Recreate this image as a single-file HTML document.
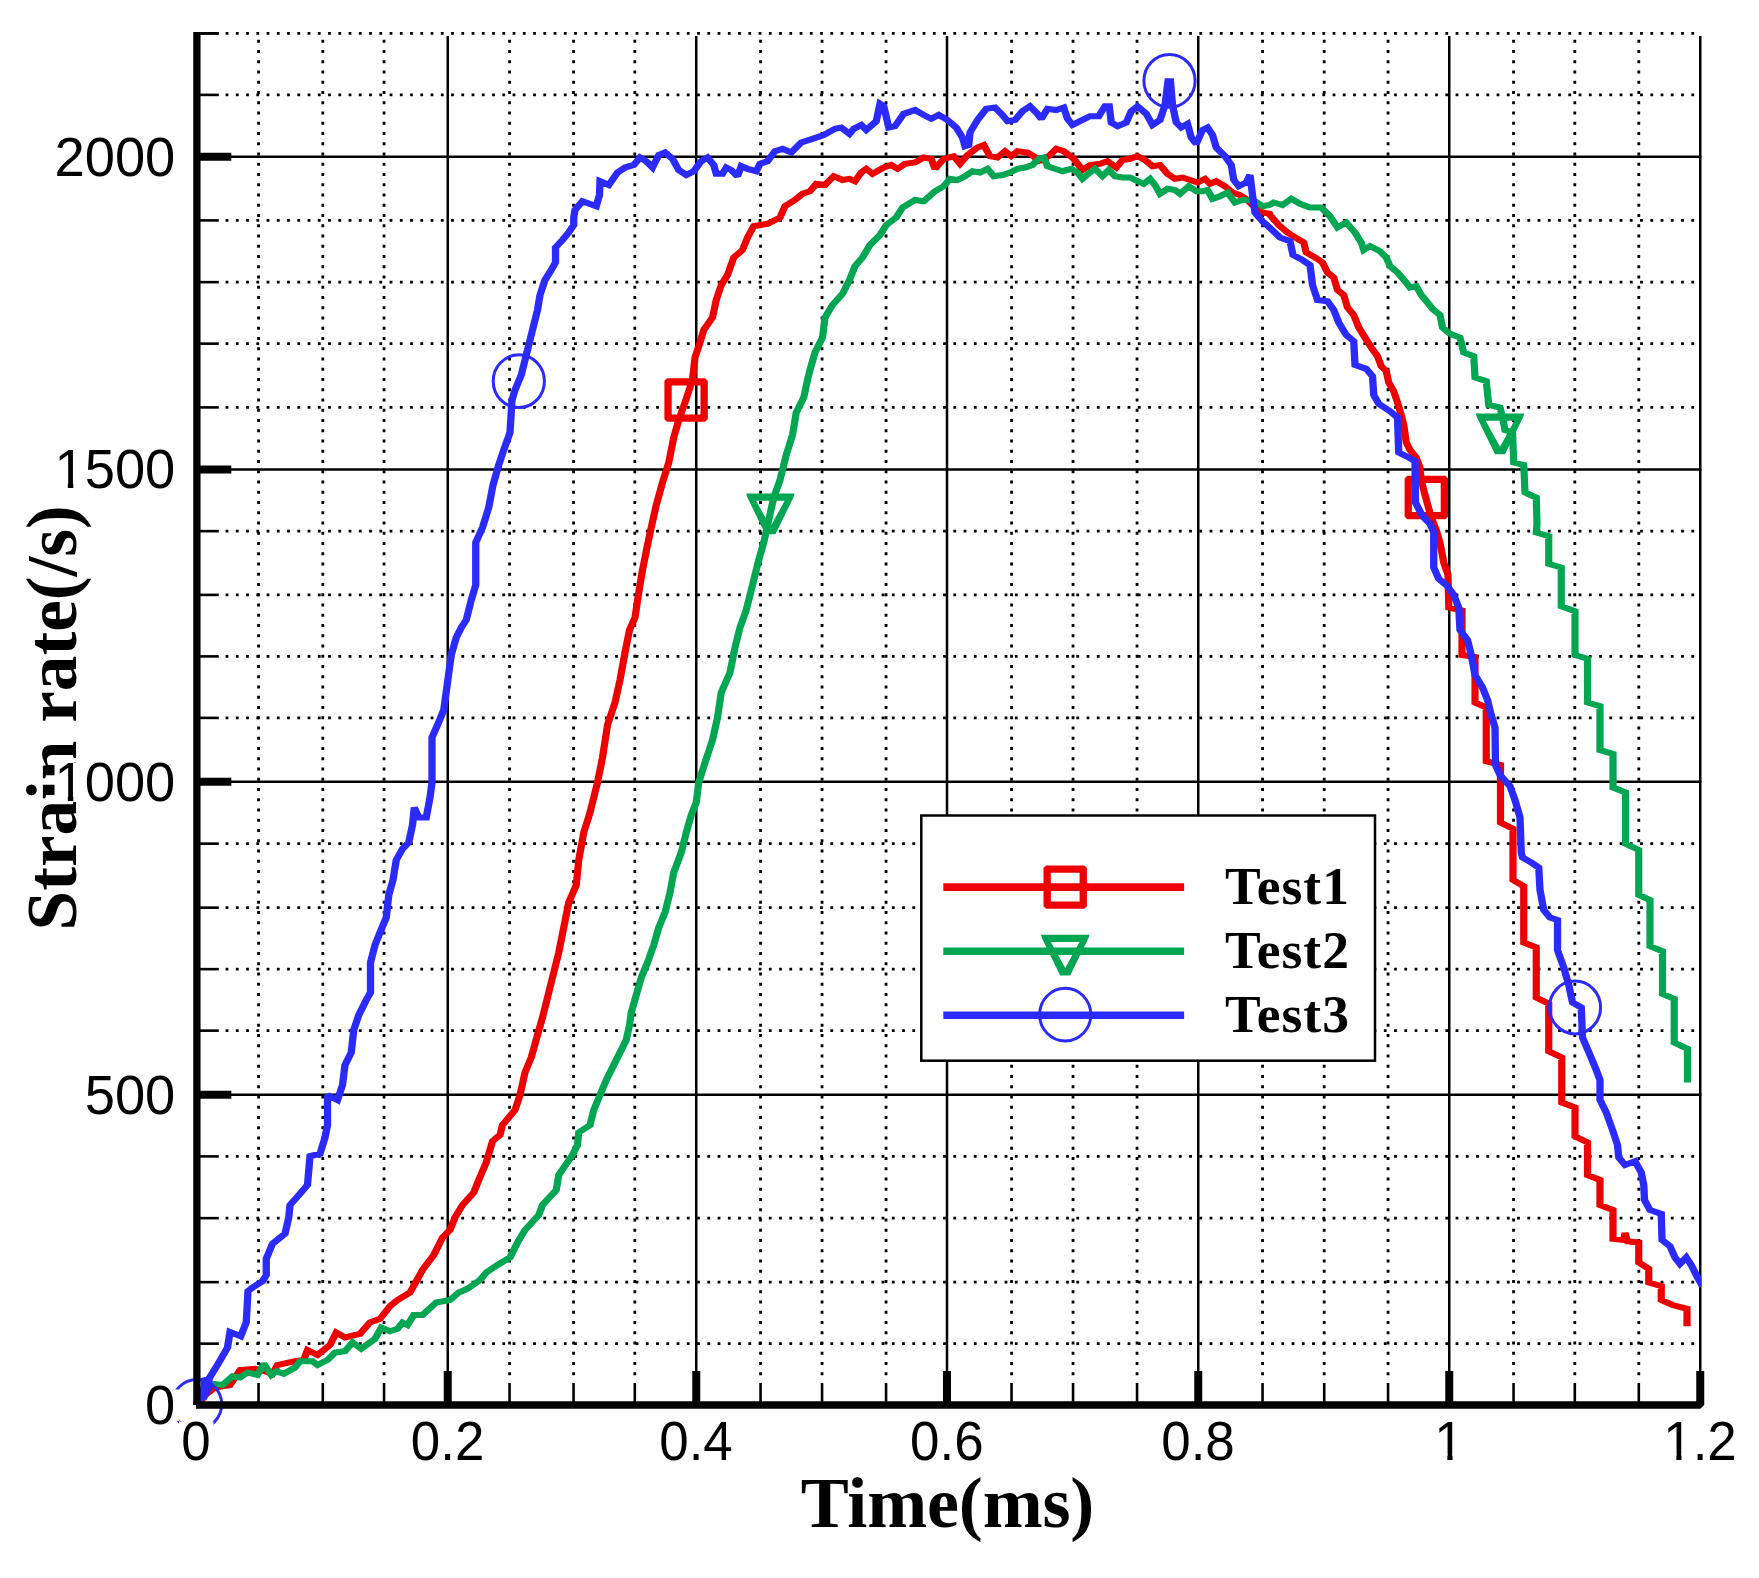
<!DOCTYPE html>
<html><head><meta charset="utf-8"><title>Strain rate</title>
<style>html,body{margin:0;padding:0;background:#fff}svg{display:block}</style></head>
<body>
<svg width="1759" height="1578" viewBox="0 0 1759 1578">
<rect width="1759" height="1578" fill="#fff"/>
<g stroke="#000" stroke-width="2.8" stroke-dasharray="2.8 7.45" fill="none">
<line x1="258.55" y1="39.85" x2="258.55" y2="1376"/>
<line x1="322.80" y1="39.85" x2="322.80" y2="1376"/>
<line x1="384.05" y1="39.85" x2="384.05" y2="1376"/>
<line x1="509.55" y1="39.85" x2="509.55" y2="1376"/>
<line x1="573.55" y1="39.85" x2="573.55" y2="1376"/>
<line x1="634.80" y1="39.85" x2="634.80" y2="1376"/>
<line x1="760.55" y1="39.85" x2="760.55" y2="1376"/>
<line x1="822.05" y1="39.85" x2="822.05" y2="1376"/>
<line x1="886.05" y1="39.85" x2="886.05" y2="1376"/>
<line x1="1011.55" y1="39.85" x2="1011.55" y2="1376"/>
<line x1="1073.05" y1="39.85" x2="1073.05" y2="1376"/>
<line x1="1137.05" y1="39.85" x2="1137.05" y2="1376"/>
<line x1="1262.55" y1="39.85" x2="1262.55" y2="1376"/>
<line x1="1324.20" y1="39.85" x2="1324.20" y2="1376"/>
<line x1="1388.05" y1="39.85" x2="1388.05" y2="1376"/>
<line x1="1513.55" y1="39.85" x2="1513.55" y2="1376"/>
<line x1="1574.80" y1="39.85" x2="1574.80" y2="1376"/>
<line x1="1638.80" y1="39.85" x2="1638.80" y2="1376"/>
<line x1="225.60" y1="1343.65" x2="1696" y2="1343.65"/>
<line x1="225.60" y1="1282.15" x2="1696" y2="1282.15"/>
<line x1="225.60" y1="1218.15" x2="1696" y2="1218.15"/>
<line x1="225.60" y1="1156.40" x2="1696" y2="1156.40"/>
<line x1="225.60" y1="1030.65" x2="1696" y2="1030.65"/>
<line x1="225.60" y1="969.15" x2="1696" y2="969.15"/>
<line x1="225.60" y1="907.65" x2="1696" y2="907.65"/>
<line x1="225.60" y1="843.65" x2="1696" y2="843.65"/>
<line x1="225.60" y1="717.90" x2="1696" y2="717.90"/>
<line x1="225.60" y1="656.40" x2="1696" y2="656.40"/>
<line x1="225.60" y1="594.90" x2="1696" y2="594.90"/>
<line x1="225.60" y1="531.15" x2="1696" y2="531.15"/>
<line x1="225.60" y1="407.40" x2="1696" y2="407.40"/>
<line x1="225.60" y1="343.65" x2="1696" y2="343.65"/>
<line x1="225.60" y1="282.15" x2="1696" y2="282.15"/>
<line x1="225.60" y1="220.40" x2="1696" y2="220.40"/>
<line x1="225.60" y1="94.90" x2="1696" y2="94.90"/>
<line x1="225.60" y1="33.40" x2="1696" y2="33.40"/>
</g>
<g stroke="#000" stroke-width="2.5" fill="none">
<line x1="447.75" y1="35.90" x2="447.75" y2="1405.00"/>
<line x1="696.25" y1="35.90" x2="696.25" y2="1405.00"/>
<line x1="947.00" y1="35.90" x2="947.00" y2="1405.00"/>
<line x1="1198.25" y1="35.90" x2="1198.25" y2="1405.00"/>
<line x1="1449.25" y1="35.90" x2="1449.25" y2="1405.00"/>
<line x1="1700.25" y1="35.90" x2="1700.25" y2="1405.00"/>
<line x1="196.90" y1="1094.70" x2="1701.45" y2="1094.70"/>
<line x1="196.90" y1="781.65" x2="1701.45" y2="781.65"/>
<line x1="196.90" y1="469.40" x2="1701.45" y2="469.40"/>
<line x1="196.90" y1="156.65" x2="1701.45" y2="156.65"/>
</g>
<g stroke="#000" fill="none">
<line x1="258.55" y1="1383" x2="258.55" y2="1405.00" stroke-width="2.6"/>
<line x1="322.80" y1="1383" x2="322.80" y2="1405.00" stroke-width="2.6"/>
<line x1="384.05" y1="1383" x2="384.05" y2="1405.00" stroke-width="2.6"/>
<line x1="447.75" y1="1371" x2="447.75" y2="1405.00" stroke-width="8"/>
<line x1="509.55" y1="1383" x2="509.55" y2="1405.00" stroke-width="2.6"/>
<line x1="573.55" y1="1383" x2="573.55" y2="1405.00" stroke-width="2.6"/>
<line x1="634.80" y1="1383" x2="634.80" y2="1405.00" stroke-width="2.6"/>
<line x1="696.25" y1="1371" x2="696.25" y2="1405.00" stroke-width="8"/>
<line x1="760.55" y1="1383" x2="760.55" y2="1405.00" stroke-width="2.6"/>
<line x1="822.05" y1="1383" x2="822.05" y2="1405.00" stroke-width="2.6"/>
<line x1="886.05" y1="1383" x2="886.05" y2="1405.00" stroke-width="2.6"/>
<line x1="947.00" y1="1371" x2="947.00" y2="1405.00" stroke-width="8"/>
<line x1="1011.55" y1="1383" x2="1011.55" y2="1405.00" stroke-width="2.6"/>
<line x1="1073.05" y1="1383" x2="1073.05" y2="1405.00" stroke-width="2.6"/>
<line x1="1137.05" y1="1383" x2="1137.05" y2="1405.00" stroke-width="2.6"/>
<line x1="1198.25" y1="1371" x2="1198.25" y2="1405.00" stroke-width="8"/>
<line x1="1262.55" y1="1383" x2="1262.55" y2="1405.00" stroke-width="2.6"/>
<line x1="1324.20" y1="1383" x2="1324.20" y2="1405.00" stroke-width="2.6"/>
<line x1="1388.05" y1="1383" x2="1388.05" y2="1405.00" stroke-width="2.6"/>
<line x1="1449.25" y1="1371" x2="1449.25" y2="1405.00" stroke-width="8"/>
<line x1="1513.55" y1="1383" x2="1513.55" y2="1405.00" stroke-width="2.6"/>
<line x1="1574.80" y1="1383" x2="1574.80" y2="1405.00" stroke-width="2.6"/>
<line x1="1638.80" y1="1383" x2="1638.80" y2="1405.00" stroke-width="2.6"/>
<line x1="1700.25" y1="1371" x2="1700.25" y2="1405.00" stroke-width="8"/>
<line x1="196.90" y1="1343.65" x2="218.8" y2="1343.65" stroke-width="2.6"/>
<line x1="196.90" y1="1282.15" x2="218.8" y2="1282.15" stroke-width="2.6"/>
<line x1="196.90" y1="1218.15" x2="218.8" y2="1218.15" stroke-width="2.6"/>
<line x1="196.90" y1="1156.40" x2="218.8" y2="1156.40" stroke-width="2.6"/>
<line x1="196.90" y1="1094.70" x2="231.3" y2="1094.70" stroke-width="8"/>
<line x1="196.90" y1="1030.65" x2="218.8" y2="1030.65" stroke-width="2.6"/>
<line x1="196.90" y1="969.15" x2="218.8" y2="969.15" stroke-width="2.6"/>
<line x1="196.90" y1="907.65" x2="218.8" y2="907.65" stroke-width="2.6"/>
<line x1="196.90" y1="843.65" x2="218.8" y2="843.65" stroke-width="2.6"/>
<line x1="196.90" y1="781.65" x2="231.3" y2="781.65" stroke-width="8"/>
<line x1="196.90" y1="717.90" x2="218.8" y2="717.90" stroke-width="2.6"/>
<line x1="196.90" y1="656.40" x2="218.8" y2="656.40" stroke-width="2.6"/>
<line x1="196.90" y1="594.90" x2="218.8" y2="594.90" stroke-width="2.6"/>
<line x1="196.90" y1="531.15" x2="218.8" y2="531.15" stroke-width="2.6"/>
<line x1="196.90" y1="469.40" x2="231.3" y2="469.40" stroke-width="8"/>
<line x1="196.90" y1="407.40" x2="218.8" y2="407.40" stroke-width="2.6"/>
<line x1="196.90" y1="343.65" x2="218.8" y2="343.65" stroke-width="2.6"/>
<line x1="196.90" y1="282.15" x2="218.8" y2="282.15" stroke-width="2.6"/>
<line x1="196.90" y1="220.40" x2="218.8" y2="220.40" stroke-width="2.6"/>
<line x1="196.90" y1="156.65" x2="231.3" y2="156.65" stroke-width="8"/>
<line x1="196.90" y1="94.90" x2="218.8" y2="94.90" stroke-width="2.6"/>
<line x1="196.90" y1="33.40" x2="218.8" y2="33.40" stroke-width="2.6"/>
</g>
<clipPath id="c"><rect x="196.9" y="33.4" width="1504.5" height="1371.6"/></clipPath>
<g clip-path="url(#c)"><polyline transform="scale(1.2,1)" points="166.67,1402.5 170.83,1395.0 179.17,1387.5 191.67,1385.0 200.00,1370.0 212.50,1368.8 220.83,1371.2 227.08,1373.8 231.25,1365.0 245.83,1361.2 253.12,1360.0 256.25,1350.0 264.58,1355.0 275.00,1345.0 280.21,1332.5 287.50,1337.5 300.00,1333.8 308.33,1322.5 316.67,1318.8 325.00,1306.2 331.25,1300.0 341.67,1292.5 346.88,1281.2 352.08,1270.0 361.46,1255.0 368.75,1237.5 375.00,1230.0 379.17,1217.5 385.42,1205.0 394.79,1192.5 398.96,1180.0 405.21,1162.5 410.42,1141.2 416.67,1135.0 418.75,1125.0 429.17,1110.0 433.33,1095.0 437.50,1072.5 442.71,1057.5 447.92,1035.0 452.08,1017.5 459.38,982.5 465.62,952.5 469.79,927.5 473.96,902.5 480.21,885.0 482.29,860.0 486.46,832.5 491.67,812.5 497.92,782.5 502.08,757.5 506.25,725.0 512.50,702.5 516.67,680.0 520.83,652.5 524.58,630.0 529.17,617.5 532.29,592.5 535.42,570.0 539.58,545.0 542.71,527.5 546.88,505.0 552.08,482.5 557.29,462.5 561.46,437.5 565.62,420.0 570.83,402.5 575.00,387.5 577.08,380.0 579.17,357.5 583.33,342.5 586.46,330.0 593.75,317.5 596.88,300.0 601.04,285.0 606.25,275.0 611.46,257.5 618.75,250.0 622.92,237.5 628.12,226.2 639.58,223.8 650.00,217.5 654.17,206.2 662.50,200.0 668.75,193.8 675.00,191.2 680.21,183.8 687.50,185.0 694.79,176.2 702.08,180.0 707.92,178.8 712.50,181.2 717.71,172.5 721.88,168.8 727.08,173.8 736.46,167.5 742.71,165.0 747.92,168.8 754.17,163.8 762.50,162.5 769.79,157.5 776.04,158.8 779.17,168.8 786.46,158.8 794.79,156.2 800.00,163.8 806.25,155.0 814.58,147.5 819.79,145.0 825.00,156.2 831.25,157.5 837.50,151.2 842.71,156.2 847.92,151.2 856.25,152.5 861.46,156.2 864.58,161.2 868.75,160.0 875.00,155.0 880.21,148.8 886.46,151.2 894.79,158.8 902.08,170.0 908.33,165.0 916.67,163.8 922.92,161.2 930.21,167.5 935.42,160.0 941.67,158.8 947.92,156.2 954.17,160.0 960.42,166.2 966.67,165.0 972.92,173.8 979.17,178.8 985.42,177.5 991.67,180.0 997.92,182.5 1004.17,178.8 1008.33,183.8 1013.54,181.2 1020.83,186.2 1027.08,192.5 1033.33,195.0 1039.58,200.0 1045.83,207.5 1052.08,212.5 1057.92,213.8 1058.33,215.0 1065.62,225.0 1072.92,232.5 1081.25,238.8 1086.46,242.5 1088.54,252.5 1095.83,257.5 1102.08,262.5 1106.25,272.5 1111.46,277.5 1114.58,290.0 1119.79,295.0 1122.92,307.5 1128.12,315.0 1132.29,327.5 1137.50,337.5 1142.71,347.5 1147.92,356.2 1151.04,366.2 1155.21,371.2 1157.29,382.5 1161.46,391.2 1164.58,402.5 1167.71,415.0 1169.79,425.0 1171.88,442.5 1175.00,450.0 1180.21,457.5 1183.33,467.5 1184.38,480.0 1187.50,495.0 1192.71,517.5 1196.88,530.0 1200.00,542.5 1203.12,562.5 1206.67,575.0 1207.29,607.5 1218.33,610.5 1218.33,655.0 1229.17,657.0 1229.17,702.5 1238.54,707.5 1238.54,761.2 1250.42,765.0 1250.42,822.5 1260.83,828.8 1260.83,864.5 1260.83,880.0 1269.79,886.2 1269.79,942.5 1280.21,947.5 1280.21,997.5 1290.62,1003.8 1290.62,1051.2 1301.46,1057.5 1301.46,1102.5 1312.50,1107.5 1312.50,1136.2 1322.92,1142.5 1322.92,1175.0 1333.33,1180.0 1333.33,1205.0 1344.17,1210.0 1344.17,1235.0 1344.17,1238.8 1353.12,1240.0 1354.17,1233.0 1356.25,1241.2 1365.62,1242.5 1365.62,1262.5 1373.96,1268.8 1373.96,1282.5 1384.38,1286.2 1384.38,1300.0 1393.75,1305.0 1405.83,1308.8 1405.83,1326.2" fill="none" stroke="#ee0000" stroke-width="6.0" stroke-linejoin="miter" stroke-miterlimit="2"/></g>
<path fill-rule="evenodd" fill="#ee0000" d="M667.0,378.3 L705.2,378.3 L707.8,380.9 L707.8,419.1 L705.2,421.7 L667.0,421.7 L664.4,419.1 L664.4,380.9 Z M671.7,385.6 L700.5,385.6 L700.5,414.4 L671.7,414.4 Z"/>
<path fill-rule="evenodd" fill="#ee0000" d="M1407.2,475.8 L1445.4,475.8 L1448.0,478.4 L1448.0,516.6 L1445.4,519.2 L1407.2,519.2 L1404.6,516.6 L1404.6,478.4 Z M1411.9,483.1 L1440.7,483.1 L1440.7,511.9 L1411.9,511.9 Z"/>
<g clip-path="url(#c)"><polyline transform="scale(1.2,1)" points="177.08,1383.8 185.42,1385.0 193.75,1376.2 200.00,1377.5 206.25,1372.5 214.58,1375.0 219.79,1363.8 226.04,1375.0 230.21,1371.2 236.46,1373.8 245.83,1367.5 250.00,1361.2 260.42,1361.2 264.58,1365.0 272.92,1360.0 279.17,1352.5 287.50,1351.2 293.75,1342.5 301.04,1348.8 312.50,1338.8 317.71,1327.5 325.00,1331.2 331.25,1328.8 335.42,1322.5 339.58,1325.0 344.79,1315.0 352.08,1315.0 363.54,1302.5 375.00,1300.0 382.29,1292.5 389.58,1288.8 400.00,1280.0 405.21,1272.5 414.58,1265.0 425.00,1257.5 431.25,1242.5 437.50,1230.0 448.96,1215.0 452.08,1205.0 463.54,1190.0 465.62,1175.0 477.08,1155.0 481.25,1145.0 482.29,1132.5 491.67,1125.0 494.79,1110.0 500.00,1095.0 505.21,1080.0 512.50,1062.5 521.88,1040.0 524.58,1025.0 526.04,1012.5 530.21,995.0 534.38,977.5 539.58,962.5 544.79,945.0 548.96,927.5 554.17,912.5 558.33,892.5 561.46,872.5 567.71,852.5 571.88,832.5 576.04,815.0 580.21,802.5 582.29,782.5 587.50,762.5 591.67,747.5 593.75,740.0 597.92,717.5 601.04,692.5 608.33,672.5 612.50,647.5 616.67,627.5 621.88,610.0 627.08,585.0 632.29,560.0 636.46,542.5 640.62,520.0 644.79,497.5 650.00,480.0 655.21,455.0 660.42,435.0 663.54,412.5 669.79,397.5 672.92,380.0 675.00,370.0 679.17,352.5 685.42,337.5 687.50,317.5 693.75,305.0 702.08,293.8 707.92,280.0 712.50,266.2 718.75,257.5 725.00,245.0 733.33,235.0 738.54,225.0 746.88,217.5 752.08,207.5 762.50,200.0 769.79,201.2 779.17,191.2 786.46,186.2 791.67,178.8 797.92,180.0 804.17,176.2 810.42,171.2 816.67,172.5 822.92,168.8 828.12,176.2 835.42,175.0 841.67,172.5 847.92,168.8 854.17,167.5 860.42,165.0 865.62,158.8 869.79,157.5 872.92,166.2 879.17,168.8 885.42,171.2 892.71,168.8 897.92,172.5 902.08,178.8 908.33,172.5 912.50,168.8 918.75,176.2 923.96,170.0 929.17,176.2 935.42,177.5 941.67,177.5 947.92,181.2 953.12,183.8 958.33,178.8 962.50,185.0 966.67,193.8 972.92,188.8 979.17,190.0 983.33,193.8 990.62,186.2 996.88,191.2 1002.08,191.2 1006.25,190.0 1010.42,198.8 1016.67,196.2 1022.92,192.5 1029.17,202.5 1035.42,200.0 1041.67,200.0 1045.83,201.2 1052.08,206.2 1057.92,205.0 1061.46,202.5 1068.75,205.0 1076.04,198.8 1083.33,203.8 1091.67,207.5 1101.04,207.5 1108.33,216.2 1114.58,227.5 1121.88,222.5 1129.17,232.5 1134.38,242.5 1136.46,250.0 1141.67,246.2 1150.00,251.2 1155.21,257.5 1158.33,266.2 1164.58,272.5 1170.83,281.2 1175.00,287.5 1180.21,286.2 1184.38,295.0 1189.58,302.5 1193.75,308.8 1200.00,315.0 1202.08,327.5 1208.33,333.8 1216.67,337.5 1219.79,352.5 1228.12,356.2 1229.17,377.5 1238.54,381.2 1240.62,405.0 1250.00,407.5 1252.08,417.5 1254.17,430.0 1260.42,432.5 1261.46,462.5 1269.79,465.0 1270.83,492.5 1280.21,497.5 1280.83,524.5 1280.21,532.5 1290.62,536.2 1290.62,563.8 1301.04,567.5 1301.04,606.2 1312.50,611.2 1312.50,655.0 1322.92,658.8 1322.92,702.5 1333.33,706.2 1333.33,750.0 1344.17,753.8 1344.17,787.5 1354.58,792.5 1354.58,843.8 1365.62,850.0 1365.62,864.5 1365.62,895.0 1375.00,900.0 1375.00,946.2 1385.42,951.2 1385.42,993.8 1395.21,998.8 1395.21,1042.5 1406.25,1048.8 1406.25,1082.5" fill="none" stroke="#00a651" stroke-width="6.0" stroke-linejoin="miter" stroke-miterlimit="2"/></g>
<path fill-rule="evenodd" fill="#00a651" d="M746.2,493.5 L794.6,493.5 L793.4,497.5 L775.4,534.3 L765.4,534.3 L747.4,497.5 Z M756.1,500.7 L784.7,500.7 L770.4,526.7 Z"/>
<path fill-rule="evenodd" fill="#00a651" d="M1475.8,413.5 L1524.2,413.5 L1523.0,417.5 L1505.0,454.3 L1495.0,454.3 L1477.0,417.5 Z M1485.7,420.7 L1514.3,420.7 L1500.0,446.7 Z"/>
<g clip-path="url(#c)"><polyline transform="scale(1.2,1)" points="164.58,1405.0 170.83,1385.0 181.25,1365.0 189.58,1347.5 191.67,1332.0 200.62,1336.2 205.21,1322.5 206.67,1291.2 210.42,1287.5 218.75,1281.2 221.88,1275.0 221.88,1258.8 227.08,1243.8 237.50,1233.8 240.62,1217.5 241.67,1205.0 250.00,1193.8 256.25,1185.0 258.33,1156.2 266.67,1153.8 270.83,1137.5 272.92,1125.0 272.92,1095.0 281.25,1100.0 285.42,1085.0 287.50,1065.0 292.71,1052.5 294.79,1030.0 298.96,1015.0 305.21,1000.0 308.75,992.5 308.75,962.5 312.50,945.0 316.67,932.5 321.88,917.5 323.96,895.0 327.50,880.0 330.21,860.0 335.42,848.8 340.62,842.5 343.75,825.0 345.21,807.5 348.96,817.5 355.21,817.5 358.33,797.5 360.00,782.5 360.00,737.5 364.58,725.0 369.79,710.0 372.92,682.5 376.04,655.0 380.21,637.5 384.38,627.5 388.54,620.0 392.71,600.0 396.46,585.0 396.46,542.5 402.08,527.5 407.29,507.5 410.83,485.0 415.62,465.0 419.79,450.0 425.00,432.5 426.67,400.0 429.17,390.0 434.38,375.0 439.58,350.0 443.75,330.0 447.92,310.0 450.00,295.0 454.17,280.0 459.38,270.0 462.92,262.5 462.92,247.5 468.75,240.0 473.96,232.5 478.12,225.0 478.12,217.5 479.17,210.0 485.42,201.2 496.88,206.2 499.58,195.0 500.00,181.2 507.29,185.0 514.58,172.5 520.83,167.5 528.12,165.0 533.33,157.5 538.54,161.2 543.75,167.5 548.96,155.0 554.17,152.5 560.42,158.8 565.62,170.0 571.88,175.0 578.12,171.2 584.38,161.2 589.58,157.5 594.79,165.0 596.88,173.8 602.08,173.8 605.21,167.5 609.38,170.0 614.58,176.2 617.71,166.2 622.92,168.8 630.21,171.2 633.33,163.8 639.58,161.2 645.83,151.2 652.08,148.8 659.38,152.5 667.71,142.5 677.08,138.8 686.46,135.0 695.83,128.8 701.04,127.5 707.92,133.8 711.46,128.8 717.71,125.0 721.88,130.0 730.21,121.2 733.33,103.8 736.46,106.2 740.62,127.5 745.83,126.2 753.12,113.8 762.50,110.0 769.79,115.0 776.04,118.8 782.29,115.0 789.58,120.0 796.88,127.5 802.08,137.5 804.17,146.2 807.29,145.0 808.33,132.5 814.58,120.0 821.88,108.8 829.17,107.5 835.42,115.0 839.58,121.2 845.83,120.0 852.08,111.2 858.33,106.2 864.58,113.8 867.71,118.8 872.92,108.8 880.21,110.0 886.46,107.5 889.58,118.8 893.75,125.0 900.00,121.2 908.33,116.2 915.62,116.2 920.83,106.2 924.38,106.2 926.04,122.5 931.25,126.2 938.54,122.5 942.71,111.2 947.92,106.2 955.21,113.8 960.42,125.0 966.67,120.0 970.83,105.0 973.33,81.2 975.42,81.2 977.08,105.0 980.21,122.5 984.38,127.5 989.58,123.8 992.71,137.5 996.88,143.8 1002.08,130.0 1006.25,127.5 1010.42,135.0 1013.54,147.5 1020.83,156.2 1026.04,165.0 1028.12,180.0 1032.29,186.2 1038.54,182.5 1041.67,175.0 1043.75,195.0 1045.83,212.5 1052.08,221.2 1057.92,227.5 1066.67,237.5 1075.00,241.2 1077.50,255.0 1085.42,260.0 1091.67,265.0 1093.75,285.0 1097.92,300.0 1106.25,301.2 1111.46,310.0 1115.62,322.5 1121.88,335.0 1128.12,341.2 1129.17,365.0 1138.54,368.8 1143.75,376.2 1144.79,395.0 1148.96,403.8 1158.33,411.2 1164.58,417.5 1165.62,452.5 1173.96,457.5 1179.17,461.2 1179.58,502.5 1185.42,516.2 1191.67,523.8 1194.79,532.5 1194.79,567.5 1198.96,578.8 1206.25,586.2 1211.46,595.0 1215.62,607.5 1216.67,630.0 1222.92,640.0 1226.04,655.0 1229.17,675.0 1235.42,687.5 1239.58,700.0 1242.71,715.0 1245.83,727.5 1246.25,765.0 1250.00,775.0 1258.33,786.2 1262.50,800.0 1266.67,817.5 1267.71,852.5 1268.75,857.5 1276.04,862.5 1282.29,867.5 1283.33,890.0 1286.46,910.0 1291.67,917.5 1297.92,920.0 1297.92,950.0 1303.12,967.5 1307.29,985.0 1310.42,1002.5 1317.71,1007.5 1318.75,1037.5 1325.00,1055.0 1330.21,1070.0 1333.33,1080.0 1333.33,1100.0 1338.54,1112.5 1343.75,1130.0 1347.92,1145.0 1348.96,1157.5 1354.17,1165.0 1362.50,1161.2 1367.71,1172.5 1369.79,1185.0 1370.42,1200.0 1375.00,1210.0 1384.38,1213.8 1385.00,1239.5 1385.00,1240.0 1391.67,1246.2 1395.83,1257.5 1400.00,1263.8 1405.21,1257.5 1409.38,1265.0 1414.58,1277.5 1418.75,1286.2" fill="none" stroke="#2b2bff" stroke-width="6.1" stroke-linejoin="miter" stroke-miterlimit="2"/></g>
<ellipse cx="518.8" cy="381.2" rx="25.6" ry="26.4" fill="none" stroke="#2b2bff" stroke-width="3" />
<ellipse cx="1169.5" cy="80.8" rx="25.6" ry="26.4" fill="none" stroke="#2b2bff" stroke-width="3" />
<ellipse cx="1575.0" cy="1007.5" rx="25.6" ry="26.4" fill="none" stroke="#2b2bff" stroke-width="3" />
<circle cx="196.9" cy="1404.3" r="24.8" fill="none" stroke="#2b2bff" stroke-width="3"/>
<polygon points="200.7,1378 212,1375.5 213.3,1386 206.5,1400 200.7,1400" fill="#2b2bff"/>
<line x1="196.90" y1="32.10" x2="196.90" y2="1405" stroke="#000" stroke-width="7.3"/>
<polygon points="193.3,1401.2 1703.8,1401.2 1703.8,1405.5 1700.2,1408.7 195.9,1408.7 195.9,1405 193.3,1405" fill="#000"/>
<line x1="196.90" y1="33.40" x2="218.8" y2="33.40" stroke="#000" stroke-width="2.6"/>
<rect x="921.3" y="815.5" width="453.70000000000005" height="245.20000000000005" fill="#fff" stroke="#000" stroke-width="2.5"/>
<line x1="943.3" y1="887.1" x2="1184.1" y2="887.1" stroke="#ee0000" stroke-width="7.6"/>
<line x1="943.3" y1="951.2" x2="1184.1" y2="951.2" stroke="#00a651" stroke-width="7.6"/>
<line x1="943.3" y1="1015.2" x2="1184.1" y2="1015.2" stroke="#2b2bff" stroke-width="7.6"/>
<path fill-rule="evenodd" fill="#ee0000" d="M1046.1,865.4 L1084.3,865.4 L1086.9,868.0 L1086.9,906.2 L1084.3,908.8 L1046.1,908.8 L1043.5,906.2 L1043.5,868.0 Z M1050.8,872.7 L1079.6,872.7 L1079.6,901.5 L1050.8,901.5 Z"/>
<path fill-rule="evenodd" fill="#00a651" d="M1041.0,934.7 L1089.4,934.7 L1088.2,938.7 L1070.2,975.5 L1060.2,975.5 L1042.2,938.7 Z M1050.9,941.9 L1079.5,941.9 L1065.2,967.9 Z"/>
<ellipse cx="1065.2" cy="1014.6" rx="25.6" ry="26.4" fill="none" stroke="#2b2bff" stroke-width="3" />
<g font-family="'Liberation Serif', serif" font-weight="bold" font-size="53.5" letter-spacing="1" fill="#000">
<text x="1225" y="903.5">Test1</text>
<text x="1225" y="967.5">Test2</text>
<text x="1225" y="1031.5">Test3</text>
</g>
<g font-family="'Liberation Serif', serif" font-weight="bold" fill="#000">
<text x="947.5" y="1527" text-anchor="middle" font-size="72" letter-spacing="-0.15">Time(ms)</text>
<text transform="translate(76.3,717.9) rotate(-90)" text-anchor="middle" font-size="71.2">Strain rate(/s)</text>
</g>
<g font-family="'Liberation Sans', sans-serif" fill="#000">
<rect x="145.1" y="1389.5" width="34.4" height="31.4" fill="#fff"/>
<text transform="translate(175.3,1424.0) scale(1,1.03)" font-size="54.3" text-anchor="end">0</text>
<rect x="84.7" y="1075.4" width="92.8" height="39" fill="#fff"/>
<text transform="translate(175.3,1113.7) scale(1,1.03)" font-size="54.3" text-anchor="end">500</text>
<rect x="54.5" y="762.4" width="123.0" height="39" fill="#fff"/>
<text transform="translate(175.3,800.6) scale(1,1.03)" font-size="54.3" text-anchor="end">1000</text>
<rect x="57.8" y="794.4" width="10.0" height="7.6" fill="#fff"/><rect x="73.3" y="794.4" width="10.3" height="7.6" fill="#fff"/>
<rect x="54.5" y="450.1" width="123.0" height="39" fill="#fff"/>
<text transform="translate(175.3,488.4) scale(1,1.03)" font-size="54.3" text-anchor="end">1500</text>
<rect x="57.8" y="482.1" width="10.0" height="7.6" fill="#fff"/><rect x="73.3" y="482.1" width="10.3" height="7.6" fill="#fff"/>
<rect x="54.5" y="137.4" width="123.0" height="39" fill="#fff"/>
<text transform="translate(175.3,175.7) scale(1,1.03)" font-size="54.3" text-anchor="end">2000</text>
<rect x="179.0" y="1421.4" width="34.4" height="39.4" fill="#fff"/>
<text transform="translate(195.9,1459.8) scale(1,1.062)" font-size="52.9" text-anchor="middle">0</text>
<rect x="408.6" y="1421.4" width="78.5" height="39.4" fill="#fff"/>
<text transform="translate(447.6,1459.8) scale(1,1.062)" font-size="52.9" text-anchor="middle">0.2</text>
<rect x="657.1" y="1421.4" width="78.5" height="39.4" fill="#fff"/>
<text transform="translate(696.0,1459.8) scale(1,1.062)" font-size="52.9" text-anchor="middle">0.4</text>
<rect x="907.8" y="1421.4" width="78.5" height="39.4" fill="#fff"/>
<text transform="translate(946.8,1459.8) scale(1,1.062)" font-size="52.9" text-anchor="middle">0.6</text>
<rect x="1159.1" y="1421.4" width="78.5" height="39.4" fill="#fff"/>
<text transform="translate(1198.0,1459.8) scale(1,1.062)" font-size="52.9" text-anchor="middle">0.8</text>
<rect x="1432.1" y="1421.4" width="34.4" height="39.4" fill="#fff"/>
<text transform="translate(1449.0,1459.8) scale(1,1.062)" font-size="52.9" text-anchor="middle">1</text>
<rect x="1437.5" y="1453.5" width="9.8" height="7.6" fill="#fff"/><rect x="1452.6" y="1453.5" width="10.1" height="7.6" fill="#fff"/>
<rect x="1661.1" y="1421.4" width="78.5" height="39.4" fill="#fff"/>
<text transform="translate(1700.0,1459.8) scale(1,1.062)" font-size="52.9" text-anchor="middle">1.2</text>
<rect x="1666.5" y="1453.5" width="9.8" height="7.6" fill="#fff"/><rect x="1681.5" y="1453.5" width="10.1" height="7.6" fill="#fff"/>
</g>
</svg>
</body></html>
